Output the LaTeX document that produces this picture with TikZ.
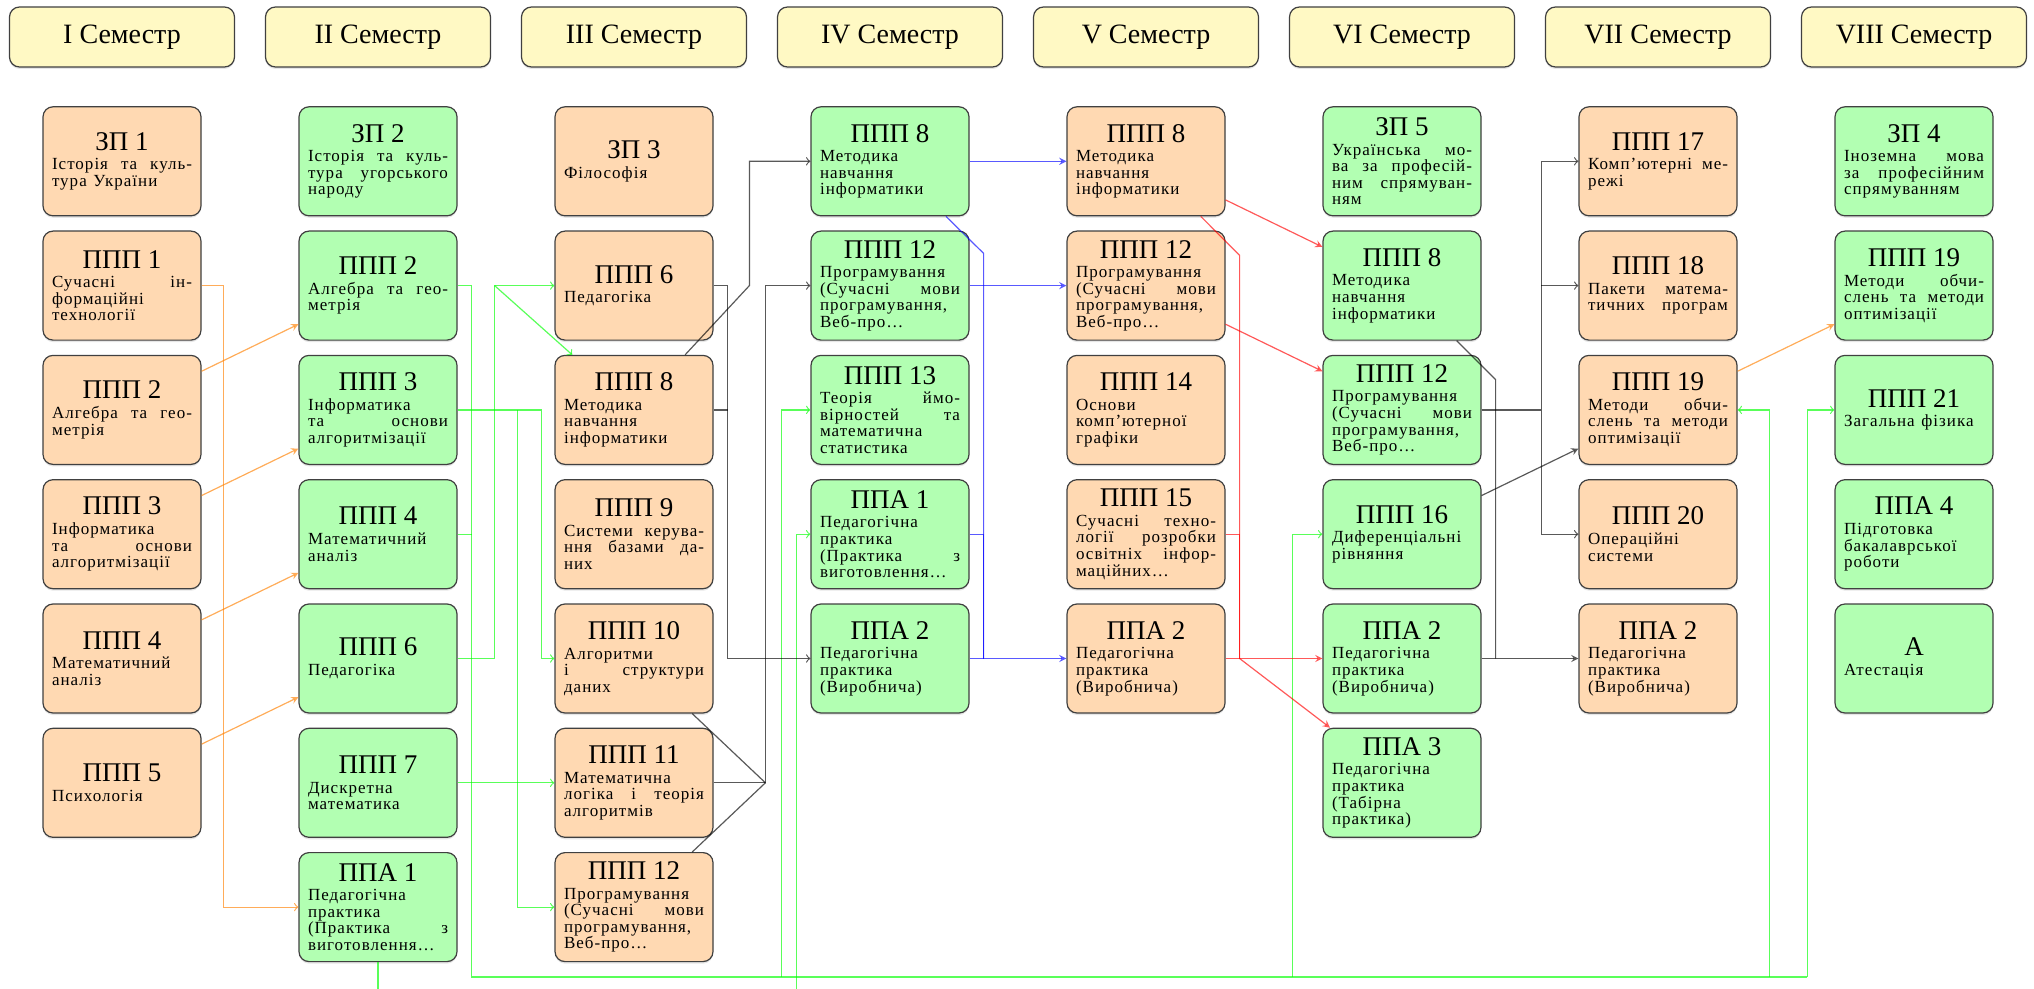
\documentclass[tikz,border=0pt]{standalone}
\usepackage{fontspec}
\setmainfont{Liberation Serif}
\newfontfamily\descfam[LetterSpace=6]{Liberation Serif}
\usetikzlibrary{positioning,shapes,arrows,shadows}
\setlength{\parindent}{0pt}
\newcommand{\subj}[2]{{\fontsize{13.5}{15}\selectfont #1\par}\vspace{1.5pt}{\descfam\fontsize{8.5}{8.3}\selectfont\raggedright #2\par}}

\begin{document}
\begin{tikzpicture}[
		x=128pt, y=-62.15pt,
		semnode/.style={draw=black!75,line width=0.6pt,rounded corners=5pt,fill={rgb,255:red,255;green,249;blue,196},minimum width=112.5pt,minimum height=30pt,font=\fontsize{14}{16}\selectfont,drop shadow={opacity=0.2,shadow xshift=0pt,shadow yshift=-1pt}},
		subjnode/.style={draw=black!75,line width=0.6pt,rounded corners=5pt,text width=70pt,minimum height=54.5pt,inner xsep=4.5pt,inner ysep=2pt,align=center,drop shadow={opacity=0.2,shadow xshift=0pt,shadow yshift=-1pt}},
		orangenode/.style={subjnode,fill=orange!30},
		greennode/.style={subjnode,fill=green!30},
		conn/.style={line width=0.6pt,opacity=0.65},
		oline/.style={conn,orange},
		gline/.style={conn,green},
		bline/.style={conn,blue},
		rline/.style={conn,red},
		kline/.style={conn,black}
		]
		\useasboundingbox (0.52344,-0.29767) rectangle (8.46875,7.65888);
		\foreach \r [count=\i] in {I,II,III,IV,V,VI,VII,VIII}
			\node[semnode] (sem\i) at (\i,0) {\r\ Семестр};

		% I semester
		\node[orangenode] (s1zp1) at (1,1) {\subj{ЗП 1}{Історія\hfill та\hfill куль-\\тура України}};
		\node[orangenode] (s1ppp1) at (1,2) {\subj{ППП 1}{Сучасні\hfill ін-\\формаційні\\технології}};
		\node[orangenode] (s1ppp2) at (1,3) {\subj{ППП 2}{Алгебра\hfill та\hfill гео-\\метрія}};
		\node[orangenode] (s1ppp3) at (1,4) {\subj{ППП 3}{Інформатика\\та\hfill основи\\алгоритмізації}};
		\node[orangenode] (s1ppp4) at (1,5) {\subj{ППП 4}{Математичний\\аналіз}};
		\node[orangenode] (s1ppp5) at (1,6) {\subj{ППП 5}{Психологія}};

		% II semester
		\node[greennode] (s2zp2) at (2,1) {\subj{ЗП 2}{Історія\hfill та\hfill куль-\\тура\hfill угорського\\народу}};
		\node[greennode] (s2ppp2) at (2,2) {\subj{ППП 2}{Алгебра\hfill та\hfill гео-\\метрія}};
		\node[greennode] (s2ppp3) at (2,3) {\subj{ППП 3}{Інформатика\\та\hfill основи\\алгоритмізації}};
		\node[greennode] (s2ppp4) at (2,4) {\subj{ППП 4}{Математичний\\аналіз}};
		\node[greennode] (s2ppp6) at (2,5) {\subj{ППП 6}{Педагогіка}};
		\node[greennode] (s2ppp7) at (2,6) {\subj{ППП 7}{Дискретна\\математика}};
		\node[greennode] (s2ppa1) at (2,7) {\subj{ППА 1}{Педагогічна\\практика\\(Практика\hfill з\\виготовлення\dots}};

		% III semester
		\node[orangenode] (s3zp3) at (3,1) {\subj{ЗП 3}{Філософія}};
		\node[orangenode] (s3ppp6) at (3,2) {\subj{ППП 6}{Педагогіка}};
		\node[orangenode] (s3ppp8) at (3,3) {\subj{ППП 8}{Методика\\навчання\\інформатики}};
		\node[orangenode] (s3ppp9) at (3,4) {\subj{ППП 9}{Системи\hfill керува-\\ння\hfill базами\hfill да-\\них}};
		\node[orangenode] (s3ppp10) at (3,5) {\subj{ППП 10}{Алгоритми\\і\hfill структури\\даних}};
		\node[orangenode] (s3ppp11) at (3,6) {\subj{ППП 11}{Математична\\логіка\hfill і\hfill теорія\\алгоритмів}};
		\node[orangenode] (s3ppp12) at (3,7) {\subj{ППП 12}{Програмування\\(Сучасні\hfill мови\\програмування,\\Веб-про\dots}};

		% IV semester
		\node[greennode] (s4ppp8) at (4,1) {\subj{ППП 8}{Методика\\навчання\\інформатики}};
		\node[greennode] (s4ppp12) at (4,2) {\subj{ППП 12}{Програмування\\(Сучасні\hfill мови\\програмування,\\Веб-про\dots}};
		\node[greennode] (s4ppp13) at (4,3) {\subj{ППП 13}{Теорія\hfill ймо-\\вірностей\hfill та\\математична\\статистика}};
		\node[greennode] (s4ppa1) at (4,4) {\subj{ППА 1}{Педагогічна\\практика\\(Практика\hfill з\\виготовлення\dots}};
		\node[greennode] (s4ppa2) at (4,5) {\subj{ППА 2}{Педагогічна\\практика\\(Виробнича)}};

		% V semester
		\node[orangenode] (s5ppp8) at (5,1) {\subj{ППП 8}{Методика\\навчання\\інформатики}};
		\node[orangenode] (s5ppp12) at (5,2) {\subj{ППП 12}{Програмування\\(Сучасні\hfill мови\\програмування,\\Веб-про\dots}};
		\node[orangenode] (s5ppp14) at (5,3) {\subj{ППП 14}{Основи\\комп’ютерної\\графіки}};
		\node[orangenode] (s5ppp15) at (5,4) {\subj{ППП 15}{Сучасні\hfill техно-\\логії\hfill розробки\\освітніх\hfill інфор-\\маційних\dots}};
		\node[orangenode] (s5ppa2) at (5,5) {\subj{ППА 2}{Педагогічна\\практика\\(Виробнича)}};

		% VI semester
		\node[greennode] (s6zp5) at (6,1) {\subj{ЗП 5}{Українська\hfill мо-\\ва\hfill за\hfill професій-\\ним\hfill спрямуван-\\ням}};
		\node[greennode] (s6ppp8) at (6,2) {\subj{ППП 8}{Методика\\навчання\\інформатики}};
		\node[greennode] (s6ppp12) at (6,3) {\subj{ППП 12}{Програмування\\(Сучасні\hfill мови\\програмування,\\Веб-про\dots}};
		\node[greennode] (s6ppp16) at (6,4) {\subj{ППП 16}{Диференціальні\\рівняння}};
		\node[greennode] (s6ppa2) at (6,5) {\subj{ППА 2}{Педагогічна\\практика\\(Виробнича)}};
		\node[greennode] (s6ppa3) at (6,6) {\subj{ППА 3}{Педагогічна\\практика\\(Табірна\\практика)}};

		% VII semester
		\node[orangenode] (s7ppp17) at (7,1) {\subj{ППП 17}{Комп’ютерні\hfill ме-\\режі}};
		\node[orangenode] (s7ppp18) at (7,2) {\subj{ППП 18}{Пакети\hfill матема-\\тичних\hfill програм}};
		\node[orangenode] (s7ppp19) at (7,3) {\subj{ППП 19}{Методи\hfill обчи-\\слень\hfill та\hfill методи\\оптимізації}};
		\node[orangenode] (s7ppp20) at (7,4) {\subj{ППП 20}{Операційні\\системи}};
		\node[orangenode] (s7ppa2) at (7,5) {\subj{ППА 2}{Педагогічна\\практика\\(Виробнича)}};

		% VIII semester
		\node[greennode] (s8zp4) at (8,1) {\subj{ЗП 4}{Іноземна\hfill мова\\за\hfill професійним\\спрямуванням}};
		\node[greennode] (s8ppp19) at (8,2) {\subj{ППП 19}{Методи\hfill обчи-\\слень\hfill та\hfill методи\\оптимізації}};
		\node[greennode] (s8ppp21) at (8,3) {\subj{ППП 21}{Загальна фізика}};
		\node[greennode] (s8ppa4) at (8,4) {\subj{ППА 4}{Підготовка\\бакалаврської\\роботи}};
		\node[greennode] (s8a) at (8,5) {\subj{А}{Атестація}};

		% orange
		\path
		(s1ppp2) edge[oline,-stealth] (s2ppp2)
		(s1ppp3) edge[oline,-stealth] (s2ppp3)
		(s1ppp4) edge[oline,-stealth] (s2ppp4)
		(s1ppp5) edge[oline,-stealth] (s2ppp6)
		(s7ppp19) edge[oline,-stealth] (s8ppp19);
		\draw[oline,->] (s1ppp1.east) -- ++(11pt,0) |- (s2ppa1.west);

		% green
		\coordinate (bus) at (1,7.5623);
		\draw[gline,->] (s2ppp6.east) -- ++(18.5pt,0) |- (s3ppp6.west);
		\draw[gline,->] ([xshift=18.5pt]s2ppp6.east |- s3ppp6) -- (s3ppp8);
		\draw[gline,->] (s2ppp3.east) -- ++(42pt,0) |- (s3ppp10.west);
		\draw[gline,->] ([xshift=30pt]s2ppp3.east) |- (s3ppp12.west);
		\draw[gline,->] (s2ppp7) -- (s3ppp11);
		\draw[gline,->] (s2ppa1.south) -- ++(0,-25pt) -| ([xshift=-7pt]s4ppa1.west) -- (s4ppa1.west);
		\draw[gline] (s2ppp2.east) -- ++(7pt,0) coordinate (gtop) -- (gtop |- bus) -- ([xshift=-13.5pt]s8ppp21.west |- bus);
		\draw[gline] (s2ppp4.east) -- (gtop |- s2ppp4.east);
		\draw[gline,->] ([xshift=-14.5pt]s4ppp13.west |- bus) |- (s4ppp13.west);
		\draw[gline,->] ([xshift=-15pt]s6ppp16.west |- bus) |- (s6ppp16.west);
		\draw[gline,->] ([xshift=16pt]s7ppp19.east |- bus) |- (s7ppp19.east);
		\draw[gline,->] ([xshift=-13.5pt]s8ppp21.west |- bus) |- (s8ppp21.west);

		% black, III -> IV
		\draw[kline,->] (s3ppp6.east) -- ++(7pt,0) |- (s4ppa2.west);
		\draw[kline] (s3ppp8.east) -- ++(7pt,0);
		\draw[kline,->] (s3ppp8) -- ([xshift=-30.5pt]s4ppp12.west) |- (s4ppp8.west);
		\coordinate (kjoin) at ([xshift=-22.5pt]s4ppp12.west |- s3ppp11);
		\draw[kline] (s3ppp10) -- (kjoin);
		\draw[kline] (s3ppp12) -- (kjoin);
		\draw[kline,->] (s3ppp11) -- (kjoin) |- (s4ppp12.west);

		% blue
		\path
		(s4ppp8) edge[bline,-stealth] (s5ppp8)
		(s4ppp12) edge[bline,-stealth] (s5ppp12)
		(s4ppa2) edge[bline,-stealth] (s5ppa2);
		\draw[bline] (s4ppp8) -- ([shift={(7pt,-18.5pt)}]s4ppp8.south east) -- ([xshift=7pt]s4ppa2.east);
		\draw[bline] (s4ppa1.east) -- ++(7pt,0) -- ([xshift=7pt]s4ppa2.east);

		% red
		\coordinate (rjoin) at ([xshift=7pt]s5ppa2.east);
		\path
		(s5ppp8) edge[rline,-stealth] (s6ppp8)
		(s5ppp12) edge[rline,-stealth] (s6ppp12)
		(s5ppa2) edge[rline,-stealth] (s6ppa2);
		\draw[rline] (s5ppp8) -- ([shift={(7pt,-19.5pt)}]s5ppp8.south east) -- (rjoin);
		\draw[rline] (s5ppp15.east) -| (rjoin);
		\draw[rline,-stealth] (rjoin) -- (s6ppa3);

		% black, VI -> VII
		\coordinate (kfork) at ([xshift=-18.5pt]s7ppp19.west);
		\draw[kline] (s6ppp12.east) -- (kfork);
		\draw[kline,->] (kfork) |- (s7ppp17.west);
		\draw[kline,->] ([xshift=-18.5pt]s7ppp18.west) -- (s7ppp18.west);
		\draw[kline,->] (kfork) |- (s7ppp20.west);
		\path
		(s6ppp16) edge[kline,-stealth] (s7ppp19)
		(s6ppa2) edge[kline,-stealth] (s7ppa2);
		\draw[kline] (s6ppp8) -- ([shift={(7pt,-19.5pt)}]s6ppp8.south east) -- ([xshift=7pt]s6ppa2.east);
	\end{tikzpicture}
\end{document}
